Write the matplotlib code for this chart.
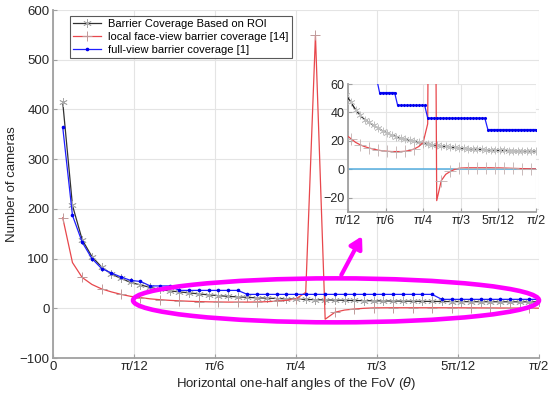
import numpy as np
import matplotlib
matplotlib.use('Agg')
import matplotlib.pyplot as plt
from matplotlib.patches import Ellipse

plt.rcParams['font.family'] = ['Liberation Sans', 'DejaVu Sans']
plt.rcParams['mathtext.fontset'] = 'dejavusans'

### Data (theta = k*pi/100, k = 1..50)

k = np.arange(1, 51)
theta = k * np.pi / 100

roi = [414, 207, 138, 104, 83, 69, 60, 52, 47, 42,
       38, 35, 33, 31, 29, 27, 25.5, 24, 23, 22,
       21, 20.4, 19.7, 19, 18.4, 17.8, 17.3, 16.9, 16.5, 16.1,
       15.7, 15.4, 15.1, 14.8, 14.6, 14.4, 14.2, 14.0, 13.8, 13.7,
       13.5, 13.4, 13.3, 13.2, 13.2, 13.1, 13.1, 13.0, 13.0, 13.0]

local_fv = [182, 92, 62, 48, 39, 33, 28, 24, 21.5, 19,
            17.3, 16, 15, 14.2, 13.5, 13, 12.7, 12.5, 12.5, 12.5,
            12.7, 13.3, 14.3, 16, 19, 32, 549, -22, -8, -3.5,
            -1.5, 0, 0.8, 1, 1.1, 1.1, 1.1, 1.1, 1.1, 1.1,
            1.0, 1.0, 0.9, 0.8, 0.7, 0.6, 0.5, 0.4, 0.35, 0.3]

full_view = [364, 187, 133, 100, 80, 71, 63, 56, 54, 45,
             45, 45, 36, 36, 36, 36, 36, 36, 36, 28,
             28, 28, 28, 28, 28, 28, 28, 28, 28, 28,
             28, 28, 28, 28, 28, 28, 28, 28, 28, 18,
             18, 18, 18, 18, 18, 18, 18, 18, 18, 18]

# inset full-view curve (finer step, 1.2 deg)
j = np.arange(20, 76)
theta_in = j * 1.2 * np.pi / 180
full_view_in = [64, 64, 64, 54, 54, 54, 54, 54, 54, 45,
                45, 45, 45, 45, 45, 45, 45, 45, 45, 36,
                36, 36, 36, 36, 36, 36, 36, 36, 36, 36,
                36, 36, 36, 36, 36, 36, 36, 36, 36, 28,
                28, 28, 28, 28, 28, 28, 28, 28, 28, 28,
                28, 28, 28, 28, 28, 28]

xticks = np.arange(0, 7) * np.pi / 12
xlabels = ['0', 'π/12', 'π/6', 'π/4', 'π/3', '5π/12', 'π/2']

### Plot

spine_c = '#a0a0a0'
grid_c = '#e4e4e4'
txt_c = '#262626'
asterisk = (6, 2, 0)

def style(ax, fs):
    for s in ['top', 'right']:
        ax.spines[s].set_visible(False)
    for s in ['left', 'bottom']:
        ax.spines[s].set_color(spine_c)
        ax.spines[s].set_linewidth(1.3)
    ax.tick_params(direction='in', length=3, width=0.8, color=spine_c,
                   labelcolor=txt_c, labelsize=fs, pad=2.5)
    ax.grid(True, color=grid_c, linewidth=0.8)
    ax.set_axisbelow(True)

fig = plt.figure(figsize=(5.5, 3.97), dpi=100)
ax = fig.add_axes([0.0964, 0.0982, 0.8836, 0.8766])
style(ax, 9.5)

ax.plot(theta, roi, '-', color='#303030', lw=0.9, marker=asterisk, ms=6,
        mec='#a8a8a8', mew=0.6, label='Barrier Coverage Based on ROI')
ax.plot(theta, local_fv, '-', color='#e8474c', lw=0.9, marker='+', ms=7,
        mec='#c09a9a', mew=0.7, markevery=2, label='local face-view barrier coverage [14]')
ax.plot(theta, full_view, '-', color='#1f1fff', lw=0.9, marker='.', ms=3.2,
        mec='#0000ee', mfc='#0000ee', label='full-view barrier coverage [1]')

ax.set_xlim(0, np.pi / 2)
ax.set_ylim(-100, 600)
ax.set_xticks(xticks)
ax.set_xticklabels(xlabels)
ax.set_yticks(np.arange(-100, 601, 100))
ax.set_xlabel(r'Horizontal one-half angles of the FoV ($\theta$)', fontsize=9.5, color=txt_c, labelpad=1)
ax.set_ylabel('Number of cameras', fontsize=9.5, color=txt_c, labelpad=1)

leg = ax.legend(loc='upper left', bbox_to_anchor=(0.035, 0.983), fontsize=8,
                frameon=True, fancybox=False, edgecolor='#303030',
                handlelength=2.5, labelspacing=0.25, borderpad=0.3,
                handletextpad=0.6, borderaxespad=0)
leg.get_frame().set_linewidth(0.8)

# magenta highlight ellipse + arrow
ell = Ellipse((0.9147, 16), 1.312, 88.5, fill=False, edgecolor='#ff00ff',
              lw=3.3, clip_on=False, zorder=5)
ax.add_patch(ell)
ax.annotate('', xy=(1.003, 150), xytext=(0.9276, 62),
            arrowprops=dict(arrowstyle='-|>,head_length=0.7,head_width=0.4',
                            color='#ff00ff', lw=3), zorder=6)

# inset
axi = fig.add_axes([0.6327, 0.466, 0.3418, 0.3224])
style(axi, 9)
axi.set_facecolor('white')
axi.axhline(0, color='#55aee0', lw=1.1, zorder=2)
axi.plot(theta, roi, '-', color='#202020', lw=1.0, marker=asterisk, ms=5.5,
         mec='#c0c0c0', mew=0.5, zorder=3)
axi.plot(theta, local_fv, '-', color='#e8474c', lw=0.9, marker='+', ms=8,
         mec='#c0b0b0', mew=0.6, markevery=2, zorder=3)
axi.plot(theta_in, full_view_in, '-', color='#1f1fff', lw=0.9, marker='.', ms=2.5,
         mec='#0000ee', mfc='#0000ee', zorder=4)
axi.set_xlim(np.pi / 12, np.pi / 2)
axi.set_ylim(-30, 60)
axi.set_xticks(xticks[1:])
axi.set_xticklabels(xlabels[1:])
axi.set_yticks([-20, 0, 20, 40, 60])

fig.savefig('out.png', dpi=100)
